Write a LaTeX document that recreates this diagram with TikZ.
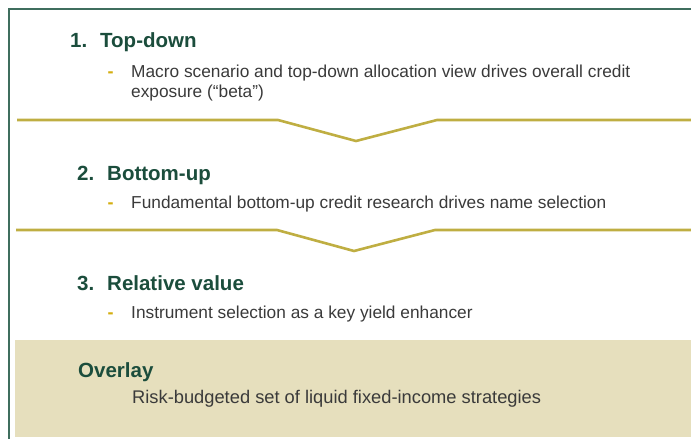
\documentclass[tikz,border=0pt]{standalone}
\usepackage{fontspec}
\setmainfont{Liberation Sans}
\definecolor{framegreen}{HTML}{3F6E5E}
\definecolor{titlegreen}{HTML}{1B4D3C}
\definecolor{bodygrey}{HTML}{3A3A3A}
\definecolor{dashgold}{HTML}{D4AE10}
\definecolor{sepolive}{HTML}{BFAE42}
\definecolor{overlayfill}{HTML}{E6DFBD}
\begin{document}
\begin{tikzpicture}[x=1pt,y=-1pt,
  steptitle/.style={anchor=base west,inner sep=0pt,text=titlegreen,font=\fontsize{20.5}{24}\selectfont\bfseries},
  bodytext/.style={anchor=base west,inner sep=0pt,text=bodygrey,font=\fontsize{17.3}{20}\selectfont},
  bullet/.style={anchor=base west,inner sep=0pt,text=dashgold,font=\fontsize{18}{20}\selectfont\bfseries},
  separator/.style={draw=sepolive,line width=2.6pt,line join=miter},
  frameline/.style={draw=framegreen,line width=1.6pt}]
\useasboundingbox (0,0) rectangle (691,439);
% overlay band
\fill[overlayfill] (15,340) rectangle (691,437);
% outer frame (left and top edges)
\draw[frameline] (9,439) -- (9,9) -- (691,9);
% chevron separators
\draw[separator] (17,120) -- (278,120) -- (356,141) -- (437,120) -- (691,120);
\draw[separator] (16,230) -- (277,230) -- (354,251) -- (435,230) -- (691,230);
% step 1
\node[steptitle] (n1) at (70,47) {1.};
\node[steptitle] (t1) at (100,47) {Top-down};
\node[bullet] (d1) at (107.5,77) {-};
\node[bodytext] (b1a) at (131,77) {Macro scenario and top-down allocation view drives overall credit};
\node[bodytext] (b1b) at (131,97) {exposure (“beta”)};
% step 2
\node[steptitle] (n2) at (77,180) {2.};
\node[steptitle] (t2) at (107,180) {Bottom-up};
\node[bullet] (d2) at (107.5,208) {-};
\node[bodytext] (b2) at (131,208) {Fundamental bottom-up credit research drives name selection};
% step 3
\node[steptitle] (n3) at (77,290) {3.};
\node[steptitle] (t3) at (107,290) {Relative value};
\node[bullet] (d3) at (107.5,318) {-};
\node[bodytext] (b3) at (131,318) {Instrument selection as a key yield enhancer};
% overlay
\node[steptitle] (ov) at (78,377) {Overlay};
\node[bodytext,font=\fontsize{18.3}{20}\selectfont] (ovb) at (132,403) {Risk-budgeted set of liquid fixed-income strategies};
\end{tikzpicture}
\end{document}
